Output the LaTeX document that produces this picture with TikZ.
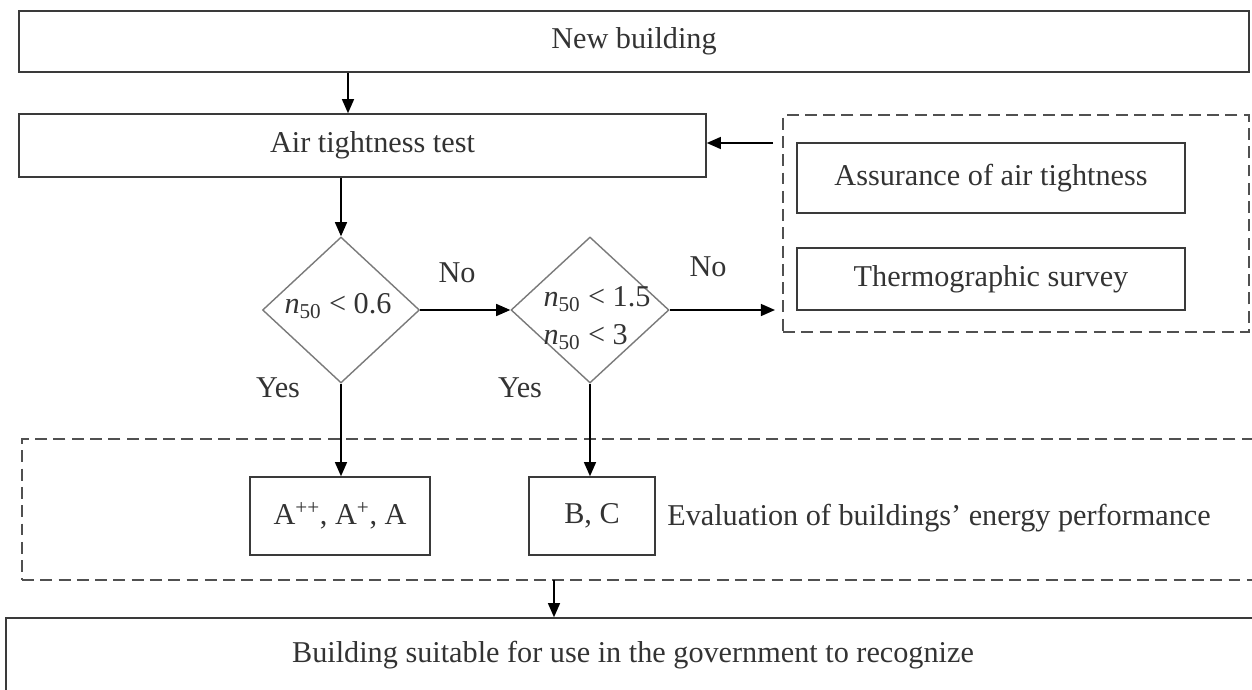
\documentclass[tikz,border=0pt]{standalone}
\usepackage{fontspec}
\setmainfont{Liberation Serif}
\usetikzlibrary{shapes.geometric,arrows.meta}
\newcommand\pxu{0.025cm}
\definecolor{ink}{HTML}{333333}
\definecolor{rim}{HTML}{3A3A3A}
\definecolor{dashgray}{HTML}{505050}
\definecolor{diagray}{HTML}{7A7A7A}

\begin{document}
\begin{tikzpicture}[x=\pxu,y=-\pxu,
  font=\fontsize{21.5}{27}\selectfont, text=ink,
  box/.style={rectangle,draw=rim,line width=1.1pt,inner sep=0pt},
  dashbox/.style={rectangle,draw=dashgray,line width=1.5pt,dash pattern=on 8.5pt off 4.5pt,inner sep=0pt},
  decision/.style={diamond,draw=diagray,line width=1pt,inner sep=0pt},
  arr/.style={draw=black,line width=1.1pt,-{Triangle[length=10pt,width=8.5pt]}}]
\useasboundingbox (0,0) rectangle (1252,690);
\clip (0,0) rectangle (1252,690);
\node[box,minimum width=1230*\pxu,minimum height=61*\pxu] (NB) at (634,41.5) {New building};
\node[box,minimum width=687*\pxu,minimum height=63*\pxu] (AT) at (362.5,145.5) {\hspace*{0.5cm}Air tightness test};
\node[dashbox,minimum width=466*\pxu,minimum height=217*\pxu] (G1) at (1016,223.5) {};
\node[box,minimum width=388*\pxu,minimum height=70*\pxu] (AS) at (991,178) {Assurance of air tightness};
\node[box,minimum width=388*\pxu,minimum height=62*\pxu] (TS) at (991,279) {Thermographic survey};
\node[decision,minimum width=157*\pxu,minimum height=146*\pxu] (D1) at (341,310) {};
\node[decision,minimum width=158*\pxu,minimum height=146*\pxu] (D2) at (590,310) {};
\node (T1) at (338,306) {\textit{n}\textsubscript{50} < 0.6};
\node[align=left,inner sep=0pt] (T2) at (597,318) {\textit{n}\textsubscript{50} < 1.5\\\textit{n}\textsubscript{50} < 3};
\node (no1) at (457,273) {No};
\node (no2) at (708,267) {No};
\node (yes1) at (278,388) {Yes};
\node (yes2) at (520,388) {Yes};
\node[dashbox,minimum width=1240*\pxu,minimum height=141*\pxu] (G2) at (642,509.5) {};
\node[box,minimum width=180*\pxu,minimum height=78*\pxu] (GA) at (340,516) {A\textsuperscript{++}, A\textsuperscript{+}, A};
\node[box,minimum width=126*\pxu,minimum height=78*\pxu] (GB) at (592,516) {B, C};
\node[anchor=west,inner sep=0pt] (EV) at (667,518) {Evaluation of buildings’ energy performance};
\node[box,minimum width=1254*\pxu,minimum height=74*\pxu] (BB) at (633,655) {Building suitable for use in the government to recognize};
\coordinate (fb) at (773,143);
\coordinate (fin) at (775,310);
\coordinate (out) at (554,580);
\path
  ([xshift=7*\pxu]NB.south -| D1.north) edge[arr] ([xshift=7*\pxu]AT.north -| D1.north)
  (AT.south -| D1.north) edge[arr] (D1.north)
  (fb) edge[arr] (fb -| AT.east)
  (D1.east) edge[arr] (D2.west)
  (D2.east) edge[arr] (fin)
  (D1.south) edge[arr] (D1.south |- GA.north)
  (D2.south) edge[arr] (D2.south |- GB.north)
  (out) edge[arr] (out |- BB.north)
;
\end{tikzpicture}
\end{document}
